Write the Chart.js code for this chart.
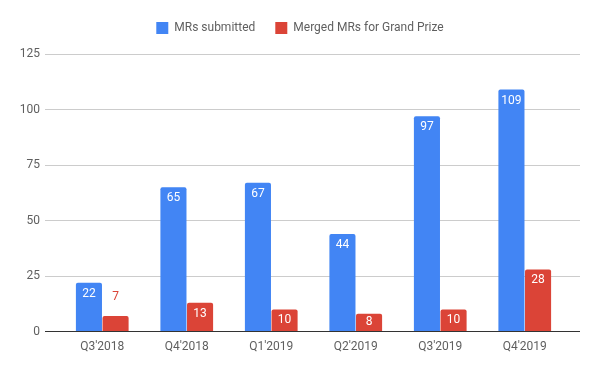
<!DOCTYPE html>
<html>
<head>
<meta charset="utf-8">
<script src="https://cdn.jsdelivr.net/npm/chart.js@4/dist/chart.umd.min.js"></script>
<style>
  html, body { margin: 0; padding: 0; background: #fff; }
  #wrap { width: 600px; height: 371px; }
</style>
</head>
<body>
<div id="wrap"><canvas id="myChart"></canvas></div>
<script>
var quarters = ["Q3'2018", "Q4'2018", "Q1'2019", "Q2'2019", "Q3'2019", "Q4'2019"];
var submitted = [22, 65, 67, 44, 97, 109];
var merged = [7, 13, 10, 8, 10, 28];
var yTicks = [0, 25, 50, 75, 100, 125];

var gridColor = function (c) {
    return c.tick && c.tick.value === 0 ? '#333333' : '#cccccc';
};

// values written on the bars, like google sheets does
var barLabels = {
    id: 'barLabels',
    afterDatasetsDraw: function (chart) {
        var ctx = chart.ctx;
        ctx.save();
        ctx.font = '12px Roboto';
        ctx.textAlign = 'center';
        ctx.textBaseline = 'middle';
        chart.data.datasets.forEach(function (ds, i) {
            chart.getDatasetMeta(i).data.forEach(function (bar, j) {
                var h = bar.base - bar.y;
                if (h > 16.5) {
                    ctx.fillStyle = '#ffffff';
                    ctx.fillText(ds.data[j], bar.x, bar.y + Math.min(11, h / 2));
                } else {
                    ctx.fillStyle = ds.backgroundColor;
                    ctx.fillText(ds.data[j], bar.x, bar.y - 19);
                }
            });
        });
        ctx.restore();
    }
};

// more room under the legend
var legendGap = {
    id: 'legendGap',
    beforeInit: function (chart) {
        var fit = chart.legend.fit;
        chart.legend.fit = function () {
            fit.bind(chart.legend)();
            this.height += 10;
        };
    }
};

var ctx = document.getElementById('myChart').getContext('2d');
var myChart = new Chart(ctx, {
    type: 'bar',
    data: {
        labels: quarters,
        datasets: [{
            label: 'MRs submitted',
            data: submitted,
            backgroundColor: '#4285F4',
            borderRadius: 2,
            borderSkipped: 'bottom'
        }, {
            label: 'Merged MRs for Grand Prize',
            data: merged,
            backgroundColor: '#DB4437',
            borderRadius: 2,
            borderSkipped: 'bottom'
        }]
    },
    options: {
        responsive: true,
        maintainAspectRatio: false,
        animation: false,
        categoryPercentage: 0.63,
        barPercentage: 0.98,
        layout: { padding: { top: 2, bottom: 17, left: 0, right: 0 } },
        plugins: {
            tooltip: { enabled: false },
            legend: {
                position: 'top',
                labels: {
                    boxWidth: 12,
                    boxHeight: 12,
                    padding: 20,
                    color: '#5f5f5f',
                    font: { family: 'Roboto', size: 12 }
                }
            }
        },
        scales: {
            x: {
                grid: { display: false },
                border: { display: false },
                ticks: {
                    color: '#5f5f5f',
                    font: { family: 'Roboto', size: 12 },
                    padding: 0,
                    maxRotation: 0
                }
            },
            y: {
                min: yTicks[0],
                max: yTicks[yTicks.length - 1],
                afterBuildTicks: function (scale) {
                    scale.ticks = yTicks.map(function (v) { return { value: v }; });
                },
                afterFit: function (scale) { scale.width = 60; },
                grid: { color: gridColor, tickLength: 15 },
                border: { display: false },
                ticks: {
                    color: '#5f5f5f',
                    font: { family: 'Roboto', size: 12 },
                    padding: 5
                }
            },
            y2: {
                position: 'right',
                min: yTicks[0],
                max: yTicks[yTicks.length - 1],
                afterBuildTicks: function (scale) {
                    scale.ticks = yTicks.map(function (v) { return { value: v }; });
                },
                afterFit: function (scale) { scale.width = 33; },
                grid: { color: gridColor, tickLength: 13, drawOnChartArea: false },
                border: { display: false },
                ticks: { display: false }
            }
        }
    },
    plugins: [barLabels, legendGap]
});
</script>
</body>
</html>
